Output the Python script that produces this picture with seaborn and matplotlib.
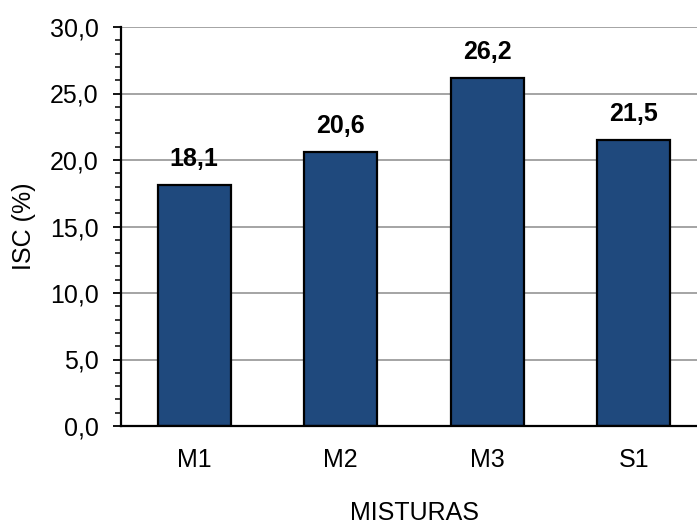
import matplotlib
matplotlib.use("Agg")
import matplotlib.pyplot as plt
import seaborn as sns
import pandas as pd
from matplotlib.ticker import MultipleLocator, FuncFormatter

categories = ["M1", "M2", "M3", "S1"]
values = [18.1, 20.6, 26.2, 21.5]

sns.set_style("white")
plt.rcParams['font.family'] = ['Liberation Sans', 'DejaVu Sans']
plt.rcParams.update({"text.color": "black", "axes.labelcolor": "black",
                     "xtick.color": "black", "ytick.color": "black"})

df = pd.DataFrame({"cat": categories, "val": values})

fig = plt.figure(figsize=(6.97, 5.27), dpi=100)
ax = fig.add_axes([121/697, 101/527, (707-121)/697, (426-27)/527])

sns.barplot(data=df, x="cat", y="val", ax=ax, color="#1F497D", saturation=1,
            edgecolor="black", linewidth=1.6, width=0.5, zorder=3)

ax.set_xlim(-0.5, 3.5)
ax.set_ylim(0, 30)
ax.yaxis.set_major_locator(MultipleLocator(5))
ax.yaxis.set_minor_locator(MultipleLocator(1))
ax.yaxis.set_major_formatter(FuncFormatter(lambda v, p: f"{v:.1f}".replace(".", ",")))
ax.grid(axis="y", which="major", color="#8c8c8c", linewidth=1.1, zorder=0)
ax.set_axisbelow(True)

for s in ["top", "right"]:
    ax.spines[s].set_visible(False)
for s in ["left", "bottom"]:
    ax.spines[s].set_color("black")
    ax.spines[s].set_linewidth(1.6)
    ax.spines[s].set_zorder(4)

fs = 18
ax.tick_params(axis="y", which="major", direction="out", length=6, width=1.3,
               color="black", labelcolor="black", labelsize=fs, pad=10, left=True)
ax.tick_params(axis="y", which="minor", direction="out", length=4, width=1.1,
               color="black", left=True)
ax.tick_params(axis="x", length=0, labelsize=fs, labelcolor="black", pad=16)

ax.set_ylabel("ISC (%)", fontsize=fs, labelpad=10, color="black")
ax.set_xlabel("MISTURAS", fontsize=fs, labelpad=21, color="black")

for i, v in enumerate(values):
    ax.annotate(f"{v:.1f}".replace(".", ","), xy=(i, v), xytext=(0, 10),
                textcoords="offset points", ha="center", va="bottom",
                fontsize=fs, fontweight="bold", color="black")

fig.savefig("out.png", dpi=100)
